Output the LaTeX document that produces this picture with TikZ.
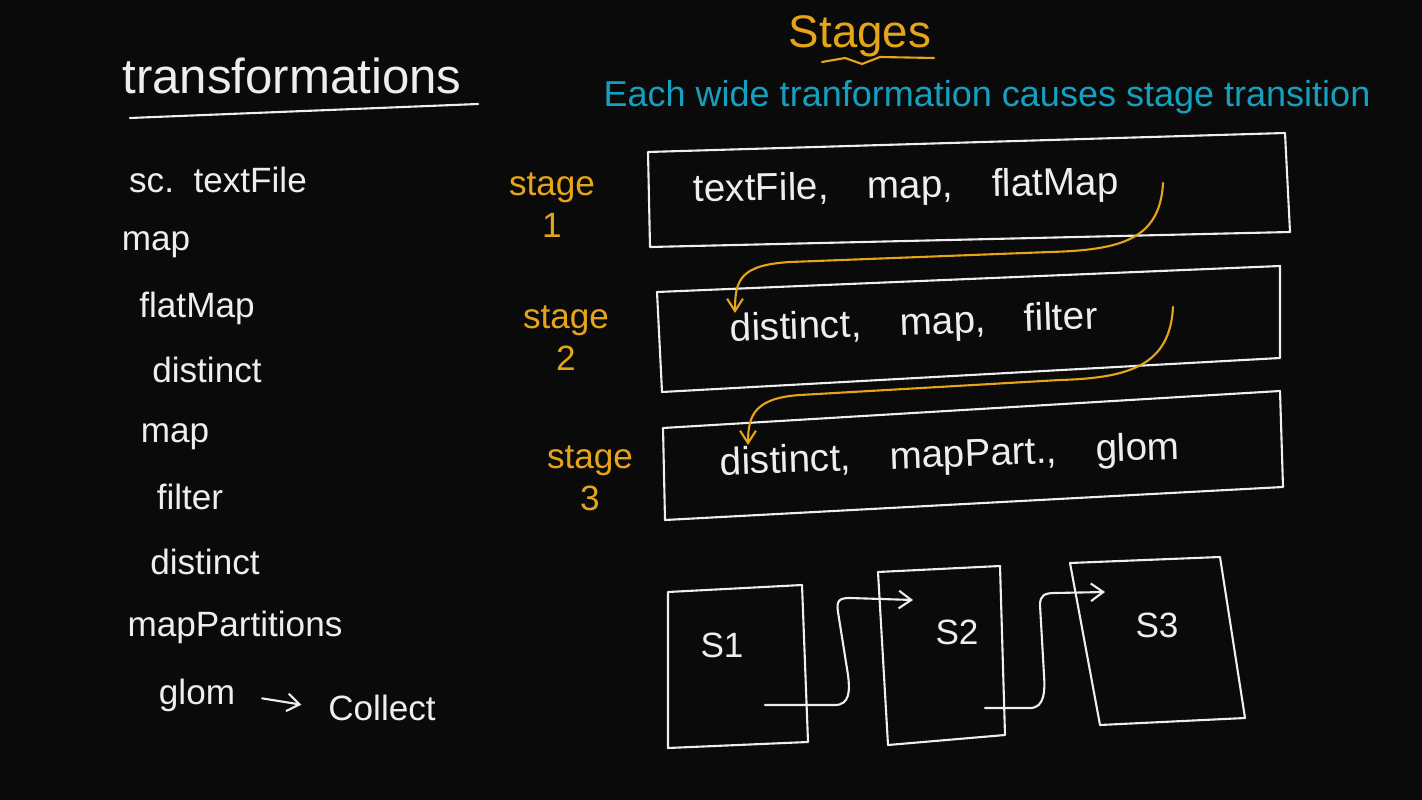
\documentclass[tikz,border=0pt]{standalone}
\usepackage{fontspec}
\setmainfont{Liberation Sans}
\usetikzlibrary{arrows.meta}
\definecolor{board}{RGB}{10,10,10}
\definecolor{chalkc}{RGB}{238,238,238}
\definecolor{amber}{RGB}{230,165,25}
\definecolor{tealink}{RGB}{20,160,190}
\tikzset{
  txt/.style={text=chalkc, font=\fontsize{20}{24}\selectfont},
  ops/.style={text=chalkc, font=\fontsize{22}{26}\selectfont},
  stg/.style={text=amber, font=\fontsize{20}{24}\selectfont, align=center},
  box/.style={draw=chalkc, line width=1.2pt, line join=round, line cap=round},
  flow/.style={draw=amber, line width=1.2pt, line cap=round, -{Straight Barb[length=7pt,width=9pt]}},
  link/.style={draw=chalkc, line width=1.2pt, line cap=round, -{Straight Barb[length=7pt,width=10pt]}}
}
\begin{document}
\begin{tikzpicture}[x=0.02cm,y=-0.02cm]
\fill[board] (0,0) rectangle (1422,800);
\node[txt, font=\fontsize{28}{32}\selectfont] (trans) at (292,76) {transformations};
\draw[box] (130,118) -- (478,104);
\node[txt] (l1) at (218,180) {sc.\ \ textFile};
\node[txt] (l2) at (156,245) {map};
\node[txt] (l3) at (197,308) {flatMap};
\node[txt] (l4) at (207,370) {distinct};
\node[txt] (l5) at (175,437) {map};
\node[txt] (l6) at (190,497) {filter};
\node[txt] (l7) at (205,562) {distinct};
\node[txt] (l8) at (235,627) {mapPartitions};
\node[txt] (glom) at (197,695) {glom};
\node[txt] (collect) at (382,708) {Collect};
\draw[link, shorten <=12pt, shorten >=12pt] (glom.east) -- (collect.west);
%% stages
\node[text=amber, font=\fontsize{26}{30}\selectfont] (stages) at (860,36) {Stages};
\draw[amber, line width=1.2pt, line cap=round] (822,62) -- (845,58) -- (862,64) -- (880,57) -- (934,58);
\node[text=tealink, font=\fontsize{20.5}{24}\selectfont] (rule) at (987,97) {Each wide tranformation causes stage transition};
\draw[box] (648,152) -- (1285,133) -- (1290,232) -- (650,247) -- cycle;
\draw[box] (657,292) -- (1280,266) -- (1280,358) -- (662,392) -- cycle;
\draw[box] (663,428) -- (1280,391) -- (1283,487) -- (665,520) -- cycle;
\node[ops, rotate=1] (ops1) at (906,188) {textFile,\hspace{1em}map,\hspace{1em}flatMap};
\node[ops, rotate=2] (ops2) at (914,325) {distinct,\hspace{1em}map,\hspace{1em}filter};
\node[ops, rotate=2] (ops3) at (950,457) {distinct,\hspace{1em}mapPart.,\hspace{1em}glom};
\node[stg] (st1) at (552,205) {stage\\1};
\node[stg] (st2) at (566,338) {stage\\2};
\node[stg] (st3) at (590,478) {stage\\3};
\coordinate (f1) at (1163,183); \coordinate (t1) at (735,313);
\coordinate (f2) at (1173,307); \coordinate (t2) at (748,445);
\draw[flow] (f1) .. controls (1160,240) and (1120,250) .. (1050,252) -- (790,262) .. controls (740,265) and (735,280) .. (t1);
\draw[flow] (f2) .. controls (1170,365) and (1130,378) .. (1060,380) -- (800,395) .. controls (755,398) and (748,415) .. (t2);
%% S boxes
\draw[box] (668,592) -- (802,585) -- (808,742) -- (668,748) -- cycle;
\draw[box] (878,572) -- (1000,566) -- (1005,735) -- (888,745) -- cycle;
\draw[box] (1070,563) -- (1220,557) -- (1245,718) -- (1100,725) -- cycle;
\node[txt] (sa) at (722,645) {S1};
\node[txt] (sb) at (957,632) {S2};
\node[txt] (sc) at (1157,625) {S3};
\coordinate (a0) at (765,705); \coordinate (a1) at (913,600);
\coordinate (b0) at (985,708); \coordinate (b1) at (1105,592);
\draw[link] (a0) -- (835,705) .. controls (850,705) and (850,690) .. (848,675) -- (838,612) .. controls (836,600) and (840,598) .. (850,598) -- (a1);
\draw[link] (b0) -- (1030,708) .. controls (1045,708) and (1045,690) .. (1044,675) -- (1040,605) .. controls (1040,595) and (1045,593) .. (1055,593) -- (b1);
\end{tikzpicture}
\end{document}
